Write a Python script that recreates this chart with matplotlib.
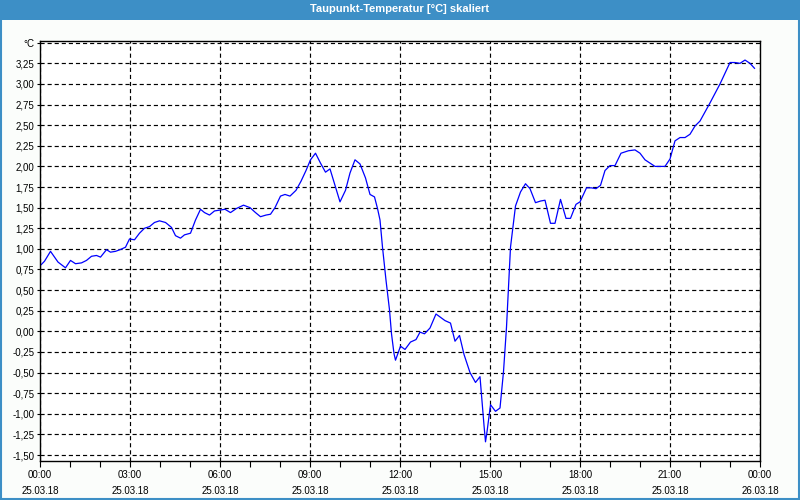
import matplotlib
matplotlib.use("Agg")
import matplotlib.pyplot as plt
from matplotlib.patches import Rectangle
import numpy as np

# time in minutes since 25.03.18 00:00, dew point in °C
minutes = [1, 9, 21, 36, 51, 61, 71, 83, 93, 103, 113, 121, 133, 141, 151, 160, 171, 179,
           189, 199, 209, 219, 229, 239, 251, 263, 271, 281, 289, 301, 311, 321, 329, 339,
           349, 359, 370, 381, 393, 407, 420, 431, 441, 452, 461, 470, 481, 490, 500, 512,
           522, 532, 541, 551, 561, 571, 580, 590, 600, 611, 620, 630, 640, 651, 660, 669,
           675, 680, 685, 692, 699, 703, 708, 711, 721, 730, 741, 752, 760, 769, 780, 792,
           810, 821, 830, 839, 848, 860, 871, 880, 884, 888, 891, 894, 901, 911, 920, 927,
           933, 937, 941, 946, 951, 961, 971, 980, 991, 1001, 1010, 1021, 1030, 1041, 1052,
           1061, 1072, 1080, 1093, 1103, 1112, 1121, 1130, 1140, 1150, 1162, 1177, 1190,
           1200, 1210, 1220, 1230, 1250, 1260, 1270, 1280, 1290, 1300, 1310, 1320, 1340,
           1360, 1380, 1390, 1400, 1410, 1420, 1429]
dewpoint = [0.80, 0.85, 0.97, 0.84, 0.77, 0.86, 0.82, 0.83, 0.86, 0.91, 0.92, 0.90, 0.99,
            0.96, 0.97, 0.99, 1.02, 1.12, 1.11, 1.19, 1.25, 1.27, 1.32, 1.34, 1.32, 1.26,
            1.16, 1.13, 1.17, 1.19, 1.35, 1.48, 1.44, 1.41, 1.46, 1.47, 1.48, 1.44, 1.49,
            1.53, 1.50, 1.44, 1.39, 1.41, 1.42, 1.50, 1.64, 1.66, 1.64, 1.71, 1.82, 1.95,
            2.08, 2.16, 2.04, 1.93, 1.97, 1.77, 1.57, 1.71, 1.92, 2.08, 2.03, 1.86, 1.66,
            1.63, 1.49, 1.35, 1.02, 0.62, 0.26, -0.03, -0.27, -0.35, -0.18, -0.22, -0.13,
            -0.10, -0.01, -0.03, 0.04, 0.21, 0.13, 0.10, -0.12, -0.05, -0.28, -0.50, -0.62,
            -0.55, -0.85, -1.14, -1.34, -1.22, -0.89, -0.97, -0.93, -0.49, 0.05, 0.54, 1.02,
            1.27, 1.52, 1.69, 1.79, 1.73, 1.56, 1.58, 1.59, 1.31, 1.31, 1.60, 1.37, 1.37,
            1.54, 1.57, 1.74, 1.74, 1.73, 1.77, 1.95, 2.01, 2.01, 2.16, 2.19, 2.20, 2.16,
            2.08, 2.04, 2.00, 2.00, 2.09, 2.31, 2.35, 2.35, 2.39, 2.49, 2.55, 2.77, 3.00,
            3.26, 3.26, 3.25, 3.29, 3.25, 3.19]

x_ticks_h = [0, 3, 6, 9, 12, 15, 18, 21, 24]
x_tick_labels = ["00:00\n25.03.18", "03:00\n25.03.18", "06:00\n25.03.18", "09:00\n25.03.18",
                 "12:00\n25.03.18", "15:00\n25.03.18", "18:00\n25.03.18", "21:00\n25.03.18",
                 "00:00\n26.03.18"]
y_ticks = [-1.50, -1.25, -1.00, -0.75, -0.50, -0.25, 0.00, 0.25, 0.50, 0.75, 1.00, 1.25,
           1.50, 1.75, 2.00, 2.25, 2.50, 2.75, 3.00, 3.25, 3.50]
y_labels = [f"{v:.2f}".replace(".", ",") for v in y_ticks[:-1]] + ["°C"]
title = "Taupunkt-Temperatur [°C] skaliert"

BLUE = "#3d8fc6"
W, H = 800, 500
fig = plt.figure(figsize=(8, 5), dpi=100, facecolor="#fbfdfb")
plt.rcParams['font.family'] = ['Liberation Sans', 'DejaVu Sans']

# title bar and frame
fig.patches.append(Rectangle((0, 480 / H), 1, 20 / H, transform=fig.transFigure,
                             facecolor=BLUE, edgecolor="none", zorder=0))
fig.patches.append(Rectangle((1 / W, 1 / H), 798 / W, 498 / H, transform=fig.transFigure,
                             facecolor="none", edgecolor=BLUE, linewidth=1.5, zorder=0))
fig.text(0.5, 490.5 / H, title, color="white", ha="center", va="center",
         fontsize=8, fontweight="bold")

ax = fig.add_axes([40 / W, (500 - 460.7) / H, 720 / W, 420.2 / H])
ax.set_facecolor("white")
hours = np.array(minutes) / 60.0
ax.plot(hours, dewpoint, color="#0000ff", linewidth=0.9)

ax.set_xlim(0, 24)
ax.set_ylim(-1.569, 3.527)
ax.set_xticks(x_ticks_h)
ax.set_xticklabels(x_tick_labels, linespacing=1.75)
ax.set_xticks(np.arange(0, 25, 1), minor=True)
ax.set_yticks(y_ticks)
ax.set_yticklabels(y_labels)

ax.grid(True, which="major", color="black", linestyle=(0, (3.5, 2.5)), linewidth=0.85)
for s in ax.spines.values():
    s.set_color("black")
    s.set_linewidth(1.0)
ax.tick_params(axis="x", which="both", length=4, width=0.8, pad=3, labelsize=7, colors="black")
ax.tick_params(axis="y", which="both", length=2, width=0.8, pad=2, labelsize=7, colors="black")
ax.tick_params(axis="y", which="minor", length=0)

fig.savefig("out.png", dpi=100, facecolor=fig.get_facecolor())
